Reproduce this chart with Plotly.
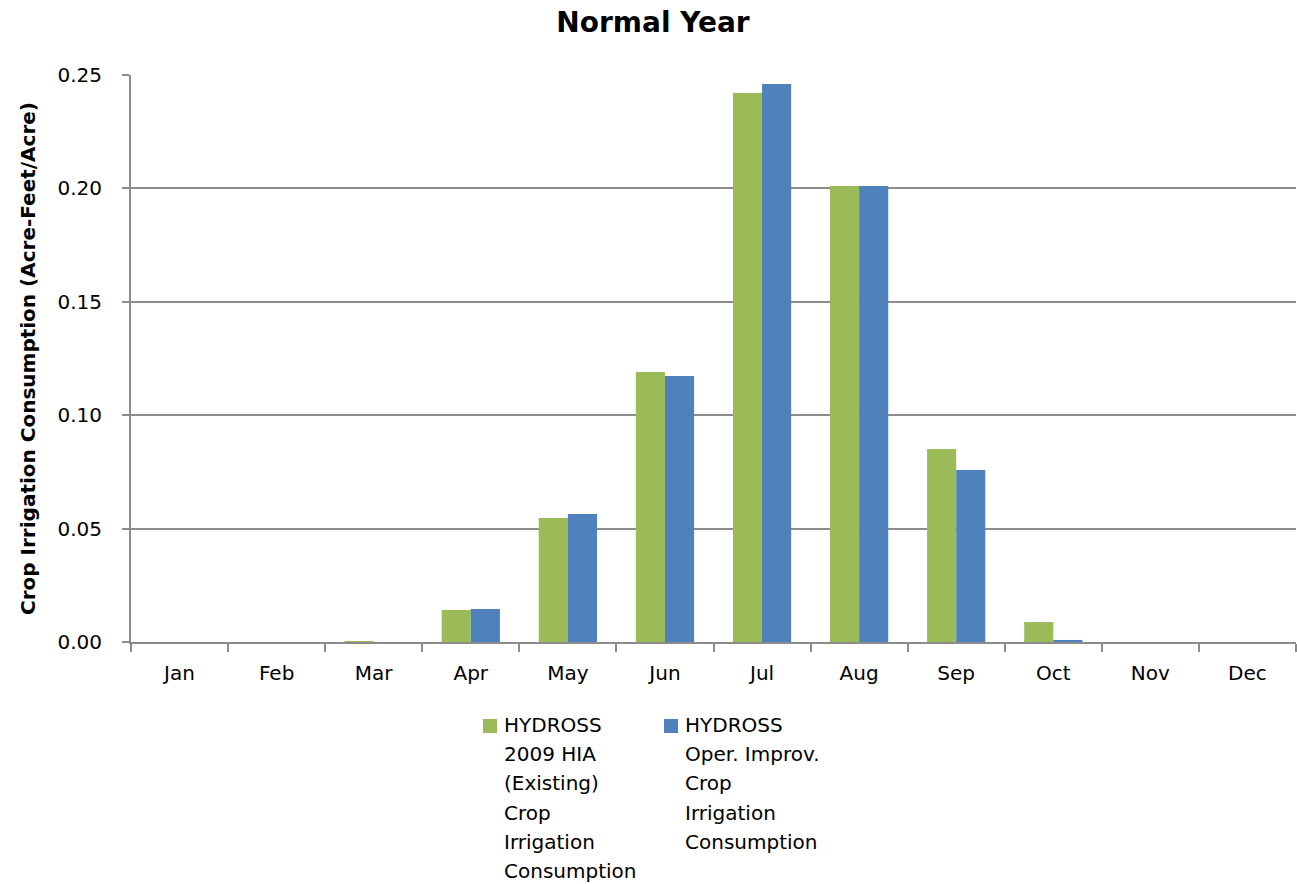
import plotly.graph_objects as go

months = ["Jan", "Feb", "Mar", "Apr", "May", "Jun", "Jul", "Aug", "Sep", "Oct", "Nov", "Dec"]
existing = [0.0, 0.0, 0.0004, 0.0141, 0.0547, 0.1190, 0.2421, 0.2011, 0.0851, 0.0088, 0.0, 0.0]
improved = [0.0, 0.0, 0.0, 0.0146, 0.0564, 0.1173, 0.2460, 0.2011, 0.0758, 0.0009, 0.0, 0.0]
y_ticks = [0.0, 0.05, 0.10, 0.15, 0.20, 0.25]

series_names = ["HYDROSS 2009 HIA (Existing) Crop Irrigation Consumption",
                "HYDROSS Oper. Improv. Crop Irrigation Consumption"]
legend_lines = [["HYDROSS", "2009 HIA", "(Existing)", "Crop", "Irrigation", "Consumption"],
                ["HYDROSS", "Oper. Improv.", "Crop", "Irrigation", "Consumption"]]
colors = ["#9BBB59", "#4F81BD"]

FONT = "'DejaVu Sans', sans-serif"
GRID = "#8c8c8c"

W, H = 1297, 884
ML, MR, MT, MB = 131, 1, 75, 242
PW, PH = W - ML - MR, H - MT - MB


def px_x(px):
    return (px - ML) / PW


def px_y(py):
    return (H - MB - py) / PH


fig = go.Figure()
for name, vals, col in zip(series_names, [existing, improved], colors):
    fig.add_trace(go.Bar(x=months, y=vals, name=name, showlegend=False,
                         marker=dict(color=col, line=dict(width=0))))

# Legend: coloured square plus stacked label lines for each series
shapes, annotations = [], []
legend_left = [483, 664]
line_step = 29.2
first_line = 725
for lines, col, left in zip(legend_lines, colors, legend_left):
    shapes.append(dict(type="rect", xref="paper", yref="paper",
                       x0=px_x(left), x1=px_x(left + 14),
                       y0=px_y(first_line + 8), y1=px_y(first_line - 6),
                       fillcolor=col, line=dict(width=0)))
    for i, txt in enumerate(lines):
        annotations.append(dict(text=txt, xref="paper", yref="paper",
                                x=px_x(left + 19), y=px_y(first_line + i * line_step),
                                xanchor="left", yanchor="middle", showarrow=False,
                                height=24,
                                font=dict(size=20, family=FONT, color="#000000")))

fig.update_layout(
    width=W, height=H,
    paper_bgcolor="white", plot_bgcolor="white",
    margin=dict(l=ML, r=MR, t=MT, b=MB),
    barmode="group", bargap=0.4, bargroupgap=0.0,
    font=dict(family=FONT, size=20, color="#000000"),
    title=dict(text="<b>Normal Year</b>", x=(653 / W), xanchor="center", xref="container",
               y=0.975, yanchor="middle", font=dict(size=28, family=FONT)),
    showlegend=False,
    shapes=shapes,
    annotations=annotations,
    xaxis=dict(
        showline=True, linecolor=GRID, linewidth=2,
        ticks="outside", tickson="boundaries", ticklen=8, tickcolor=GRID, tickwidth=2,
        ticklabelstandoff=12,
        tickfont=dict(size=20), showgrid=False,
    ),
    yaxis=dict(
        range=[0, 0.25], tickvals=y_ticks, tickformat=".2f",
        showline=True, linecolor=GRID, linewidth=2,
        ticks="outside", ticklen=7, tickcolor=GRID, tickwidth=2,
        ticklabelstandoff=16,
        showgrid=True, gridcolor=GRID, gridwidth=1.5,
        zeroline=False, tickfont=dict(size=20),
        title=dict(text="<b>Crop Irrigation Consumption (Acre-Feet/Acre)</b>",
                   font=dict(size=20, family=FONT), standoff=16),
    ),
)

fig.write_html("out.html")
